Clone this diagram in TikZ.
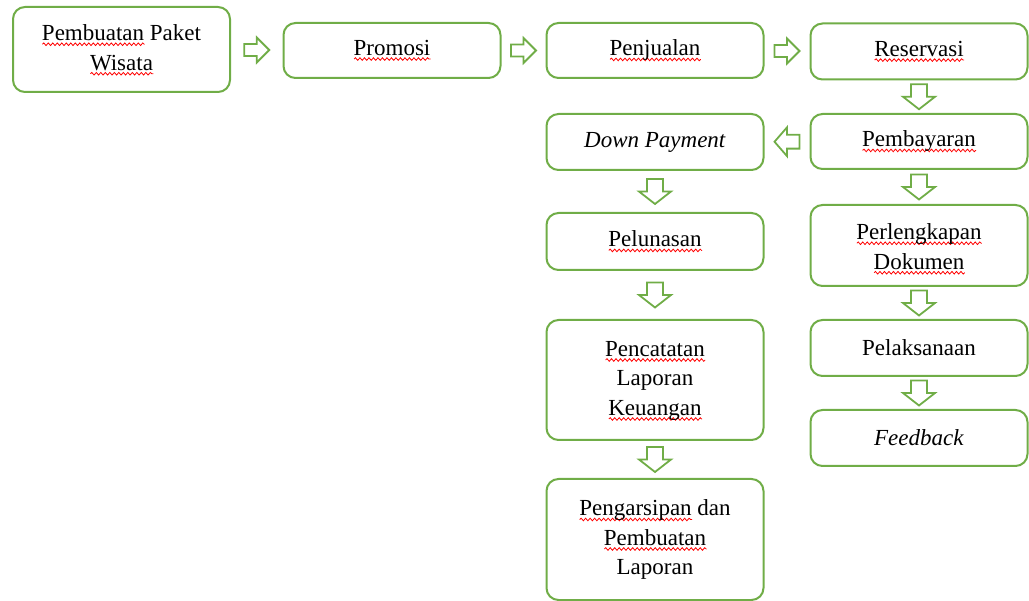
\documentclass[tikz,border=0pt]{standalone}
\usepackage{fontspec}
\setmainfont{Liberation Serif}
\usetikzlibrary{calc,decorations.pathmorphing}
\definecolor{boxgreen}{HTML}{70AD47}
\newcommand\spell[1]{\setbox0\hbox{#1}\leavevmode\rlap{\tikz[baseline=0pt]\draw[red,sharp corners,line width=0.8pt,decorate,decoration={snake,amplitude=1.3pt,segment length=4.5pt}] (0pt,-3.6pt) -- (\wd0,-3.6pt);}\box0\relax}
\newcommand\lines[2][0pt]{\raisebox{-#1}[\height][\depth]{\begin{tabular}{@{}c@{}}#2\end{tabular}}}
\tikzset{
  box/.style={draw=boxgreen, line width=2pt, rounded corners=12pt, minimum width=217pt,
    align=center, inner sep=0pt, font=\fontsize{23}{29.5}\selectfont},
  harrow/.pic={\draw[boxgreen, line width=1.8pt, line join=miter]
     (-12.5,-6) -- (0,-6) -- (0,-12.5) -- (12.5,0) -- (0,12.5) -- (0,6) -- (-12.5,6) -- cycle;},
  varrow/.pic={\draw[boxgreen, line width=1.8pt, line join=miter]
     (-8,12.5) -- (-8,0) -- (-16,0) -- (0,-12.5) -- (16,0) -- (8,0) -- (8,12.5) -- cycle;}
}
\begin{document}
\begin{tikzpicture}[x=1pt,y=1pt]
\useasboundingbox (0,0) rectangle (1029,-601);
\node[box, minimum height=85pt] (ppw) at (121.5,-49.5) {\lines{\spell{Pembuatan} Paket\\\spell{Wisata}}};
\node[box, minimum height=55pt] (pro) at (392,-50.5) {\spell{Promosi}};
\node[box, minimum height=55pt] (pen) at (655,-50.5) {\spell{Penjualan}};
\node[box, minimum height=56pt] (res) at (919,-51.5) {\spell{Reservasi}};
\node[box, minimum height=55pt] (bay) at (919,-141.5) {\spell{Pembayaran}};
\node[box, minimum height=56pt] (dp) at (655,-142) {\textit{Down Payment}};
\node[box, minimum height=57pt] (lun) at (655,-241.5) {\spell{Pelunasan}};
\node[box, minimum height=120pt] (cat) at (655,-380) {\lines{\spell{Pencatatan}\\Laporan\\\spell{Keuangan}}};
\node[box, minimum height=121pt] (arsip) at (655,-539.5) {\lines{\spell{Pengarsipan} dan\\\spell{Pembuatan}\\Laporan}};
\node[box, minimum height=81pt] (dok) at (919,-245.5) {\lines[3pt]{\spell{Perlengkapan}\\\spell{Dokumen}}};
\node[box, minimum height=56pt] (lak) at (919,-348) {Pelaksanaan};
\node[box, minimum height=56pt] (fb) at (919,-438) {\textit{Feedback}};
\pic at ($(ppw.east)!0.5!(pro.west)$) {harrow};
\pic at ($(pro.east)!0.5!(pen.west)$) {harrow};
\pic at ($(pen.east)!0.5!(res.west)$) {harrow};
\pic at ($(res.south)!0.5!(bay.north)$) {varrow};
\pic[xscale=-1,yscale=1.15] at ($(bay.west)!0.5!(dp.east)$) {harrow};
\pic at ($(bay.south)!0.5!(dok.north)$) {varrow};
\pic at ($(dok.south)!0.5!(lak.north)$) {varrow};
\pic at ($(lak.south)!0.5!(fb.north)$) {varrow};
\pic at ($(dp.south)!0.5!(lun.north)$) {varrow};
\pic at ($(lun.south)!0.5!(cat.north)$) {varrow};
\pic at ($(cat.south)!0.5!(arsip.north)$) {varrow};
\end{tikzpicture}
\end{document}
